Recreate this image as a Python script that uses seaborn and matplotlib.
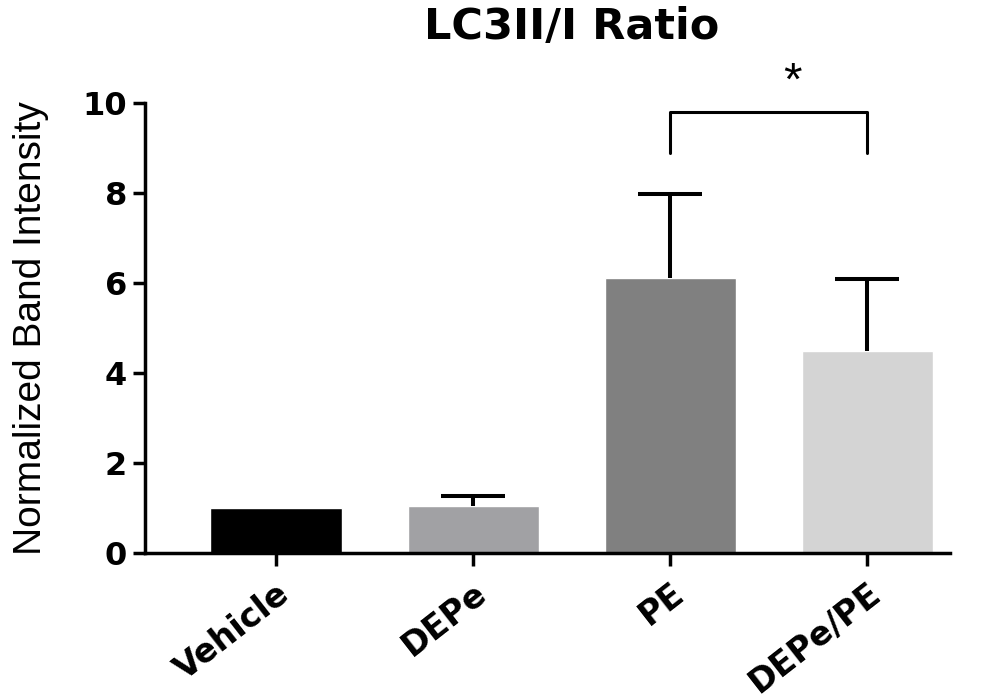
import numpy as np
import matplotlib
matplotlib.use("Agg")
import matplotlib.pyplot as plt
import pandas as pd
import seaborn as sns

sns.set_style("ticks")
plt.rcParams.update({
    "font.family": ["Liberation Sans", "DejaVu Sans"],
    "figure.facecolor": "white", "axes.facecolor": "white",
    "text.color": "black", "axes.labelcolor": "black",
    "xtick.color": "black", "ytick.color": "black", "axes.edgecolor": "black",
})
BOLD_FONT = ["DejaVu Sans"]

# data
groups = ["Vehicle", "DEPe", "PE", "DEPe/PE"]
means = [1.0, 1.04, 6.12, 4.50]
errors = [0.0, 0.23, 1.86, 1.59]
bar_colors = ["#000000", "#a1a1a4", "#808080", "#d4d4d4"]
yticks = [0, 2, 4, 6, 8, 10]
bracket_pair = ("PE", "DEPe/PE")
bracket_y, bracket_leg = 9.81, 8.88
star_y = 10.45

df = pd.DataFrame({"group": groups, "value": means})

fig = plt.figure(figsize=(9.95, 6.98), dpi=100)
ax = fig.add_axes([0.1457, 0.2077, 0.809, 0.6447])

sns.barplot(data=df, x="group", y="value", hue="group", palette=bar_colors,
            order=groups, saturation=1, width=0.665, errorbar=None,
            legend=False, ax=ax)

# upper-only error bars (SD)
x_pos = np.arange(len(groups))
_, caps, _ = ax.errorbar(x_pos[1:], means[1:], yerr=[np.zeros(3), errors[1:]],
                         fmt="none", ecolor="black", elinewidth=2.9,
                         capsize=23, capthick=2.9, zorder=1)
caps[0].set_visible(False)

# significance bracket
x1, x2 = groups.index(bracket_pair[0]), groups.index(bracket_pair[1])
ax.plot([x1, x1, x2, x2], [bracket_leg, bracket_y, bracket_y, bracket_leg],
        color="black", lw=2.2, clip_on=False)
ax.text(x1 + 0.62, star_y, "*", ha="center", va="center", fontsize=34,
        clip_on=False)

ax.set_ylim(0, 10)
ax.set_xlim(-0.665, 3.42)
ax.set_yticks(yticks)
ax.set_yticklabels([str(v) for v in yticks], fontsize=23, fontweight="bold",
                   family=BOLD_FONT)
ax.set_xticks(x_pos)
ax.set_xticklabels(groups, fontsize=24, fontweight="bold", family=BOLD_FONT,
                   rotation=38, ha="right", rotation_mode="anchor")
ax.tick_params(axis="both", width=2.5, length=9, pad=4)
ax.tick_params(axis="x", pad=8)
for s in ["left", "bottom"]:
    ax.spines[s].set_linewidth(2.5)
sns.despine(ax=ax)

ax.set_xlabel("")
ax.set_ylabel("Normalized Band Intensity", fontsize=28, labelpad=24,
              family=["Liberation Sans"])
fig.text(0.574, 0.944, "LC3II/I Ratio", ha="center", va="baseline",
         fontsize=31, fontweight="bold", family=BOLD_FONT)

fig.savefig("out.png", dpi=100)
